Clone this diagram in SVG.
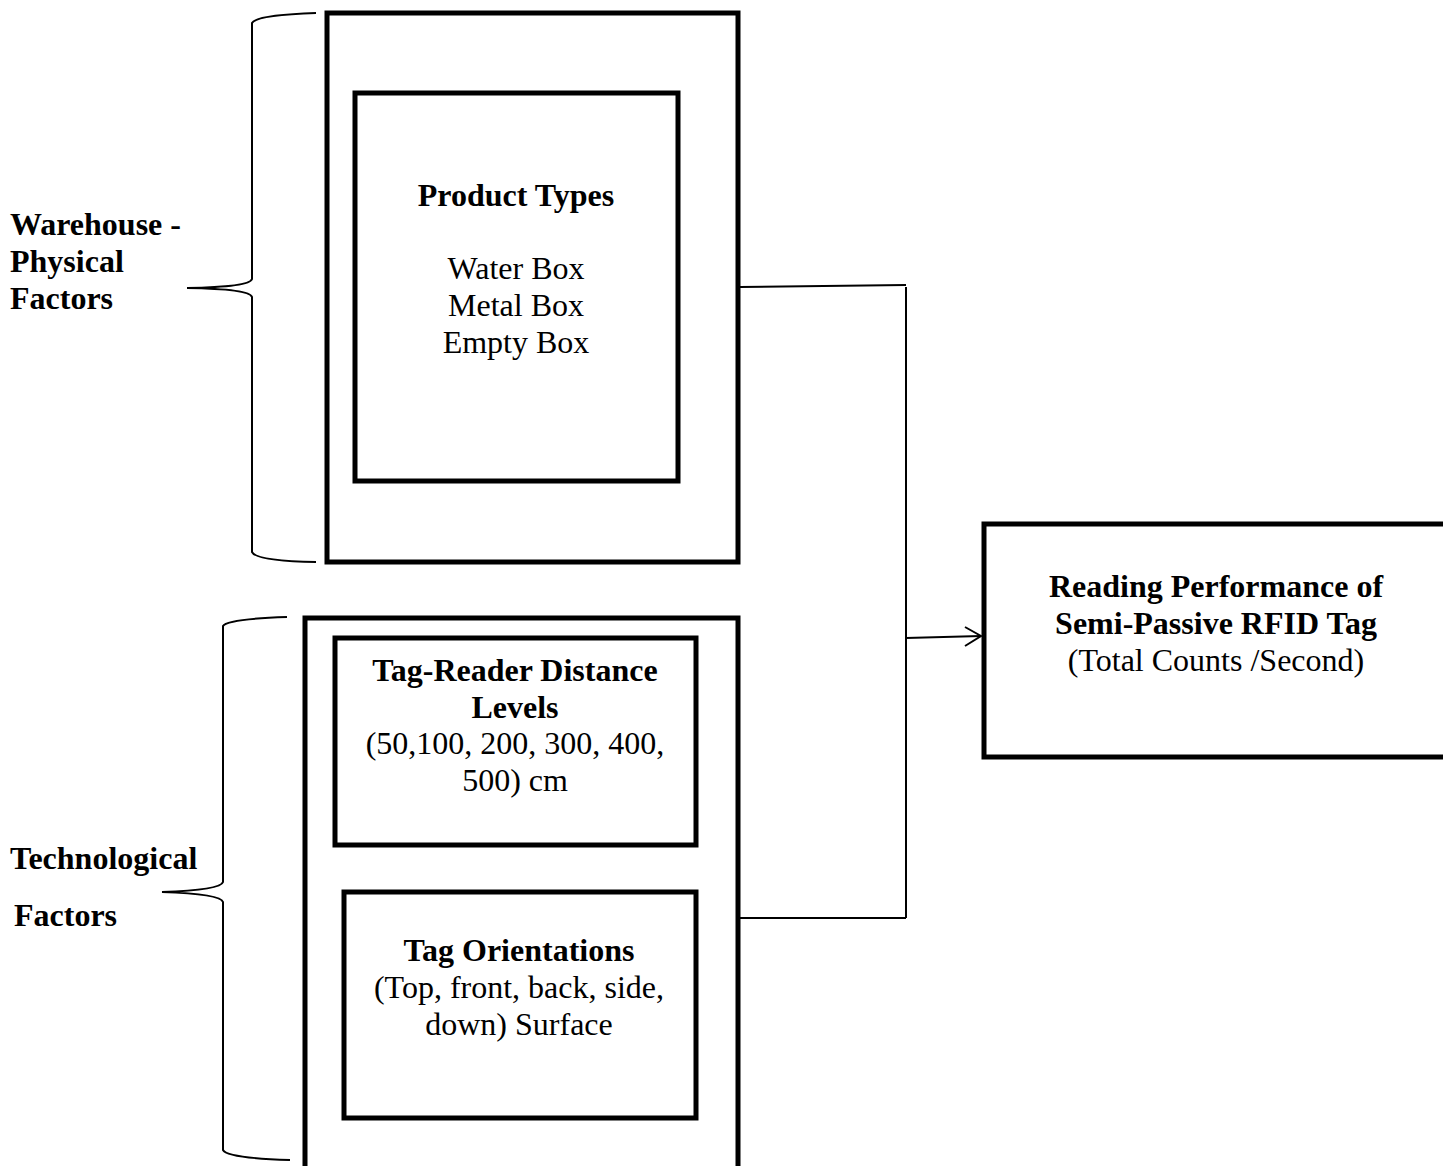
<svg xmlns="http://www.w3.org/2000/svg" width="1443" height="1166" viewBox="0 0 1443 1166">
<style>
.box{fill:none;stroke:#000;stroke-width:5}
.br{fill:none;stroke:#000;stroke-width:2}
.cn{fill:none;stroke:#000;stroke-width:2}
text{font-family:"Liberation Serif","Times New Roman",serif;font-size:32px;fill:#000}
.b{font-weight:bold}
.c{text-anchor:middle}
</style>
<rect width="1443" height="1166" fill="#fff"/>
<g id="brace-warehouse">
<path class="br" d="M316,13 Q256,15 252,23 L252,279 Q250,287 187,288 Q250,289 252,297 L252,552 Q256,561 316,562"/>
<text class="b" x="10" y="235">Warehouse -</text>
<text class="b" x="10" y="272">Physical</text>
<text class="b" x="10" y="309">Factors</text>
</g>
<g id="brace-technological">
<path class="br" d="M287,617 Q227,619 223,626 L223,882 Q221,890 162,892 Q221,894 223,902 L223,1150 Q227,1158 290,1160"/>
<text class="b" x="10" y="869">Technological</text>
<text class="b" x="14" y="926">Factors</text>
</g>
<g id="warehouse-outer">
<rect class="box" x="327" y="13" width="411" height="549"/>
</g>
<g id="product-types">
<rect class="box" x="355" y="93" width="323" height="388"/>
<text class="b c" x="516" y="206">Product Types</text>
<text class="c" x="516" y="279">Water Box</text>
<text class="c" x="516" y="316">Metal Box</text>
<text class="c" x="516" y="353">Empty Box</text>
</g>
<g id="technological-outer">
<rect class="box" x="305" y="618" width="433" height="560"/>
</g>
<g id="tag-reader-distance">
<rect class="box" x="335" y="638" width="361" height="207"/>
<text class="b c" x="515" y="681">Tag-Reader Distance</text>
<text class="b c" x="515" y="718">Levels</text>
<text class="c" x="515" y="754">(50,100, 200, 300, 400,</text>
<text class="c" x="515" y="791">500) cm</text>
</g>
<g id="tag-orientations">
<rect class="box" x="344" y="892" width="352" height="226"/>
<text class="b c" x="519" y="961">Tag Orientations</text>
<text class="c" x="519" y="998">(Top, front, back, side,</text>
<text class="c" x="519" y="1035">down) Surface</text>
</g>
<g id="reading-performance">
<rect class="box" x="984" y="524" width="470" height="233"/>
<text class="b c" x="1216" y="597">Reading Performance of</text>
<text class="b c" x="1216" y="634">Semi-Passive RFID Tag</text>
<text class="c" x="1216" y="671">(Total Counts /Second)</text>
</g>
<g id="connectors">
<path class="cn" d="M740,287 L906,285"/>
<path class="cn" d="M906,287 L906,918"/>
<path class="cn" d="M740,918 L906,918"/>
<path class="cn" d="M906,638 L981,636"/>
<path class="cn" d="M965,627 L981,636 L965,646"/>
</g>
</svg>
